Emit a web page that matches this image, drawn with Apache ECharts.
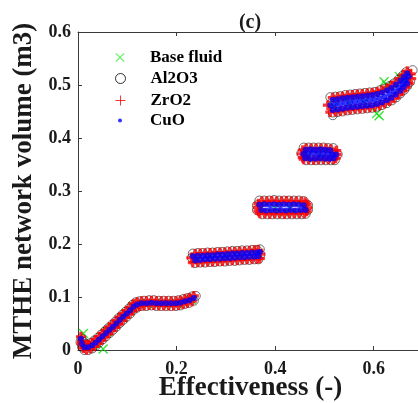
<!DOCTYPE html>
<html>
<head>
<meta charset="utf-8">
<script src="https://cdn.jsdelivr.net/npm/echarts@6/dist/echarts.min.js"></script>
<style>
  html, body { margin: 0; padding: 0; background: #fff; }
  #chart { width: 418px; height: 403px; }
</style>
</head>
<body>
<div id="chart"></div>
<script>
// Axis ranges and tick steps
const xRange = [0, 0.7];
const xStep = 0.2;
const yRange = [0, 0.6];
const yStep = 0.1;

const seriesNames = ['Base fluid', 'Al2O3', 'ZrO2', 'CuO'];

// Base fluid: [effectiveness, network volume]
const baseFluid = [
  [0.011,0.031],[0.051,0.002],[0.030,0.010],[0.060,0.035],[0.090,0.061],[0.111,0.081],
  [0.140,0.088],[0.170,0.088],[0.200,0.088],[0.230,0.095],
  [0.240,0.172],[0.270,0.174],[0.300,0.176],[0.330,0.178],[0.360,0.179],
  [0.370,0.266],[0.400,0.268],[0.430,0.268],[0.460,0.267],
  [0.465,0.368],[0.490,0.369],[0.515,0.368],
  [0.520,0.460],[0.550,0.465],[0.580,0.468],[0.606,0.446],[0.611,0.442],
  [0.621,0.506],[0.626,0.500],[0.652,0.516],[0.656,0.511]
];

// Al2O3 nanofluid
const al2o3 = [
  [0.007,0.022],[0.011,0.015],[0.017,0.011],[0.025,0.013],[0.033,0.018],[0.040,0.023],[0.047,0.029],[0.054,0.035],
  [0.061,0.041],[0.068,0.047],[0.075,0.053],[0.082,0.060],[0.089,0.066],[0.096,0.072],[0.103,0.078],[0.110,0.085],
  [0.117,0.090],[0.125,0.092],[0.134,0.093],[0.144,0.094],[0.154,0.094],[0.164,0.093],[0.174,0.093],[0.184,0.093],
  [0.194,0.093],[0.204,0.094],[0.213,0.096],[0.222,0.098],[0.231,0.101],[0.239,0.102],
  [0.005,0.015],[0.008,0.006],[0.013,0.000],[0.021,0.000],[0.029,0.003],[0.036,0.008],[0.043,0.014],[0.050,0.020],
  [0.057,0.026],[0.064,0.032],[0.071,0.038],[0.078,0.044],[0.085,0.051],[0.092,0.057],[0.099,0.063],[0.106,0.069],
  [0.113,0.076],[0.120,0.080],[0.129,0.083],[0.139,0.083],[0.149,0.084],[0.159,0.083],[0.169,0.083],[0.179,0.083],
  [0.189,0.083],[0.199,0.083],[0.208,0.084],[0.217,0.087],[0.226,0.089],[0.235,0.093],
  [0.233,0.182],[0.243,0.183],[0.253,0.183],[0.263,0.184],[0.273,0.184],[0.283,0.185],[0.293,0.185],[0.303,0.186],
  [0.313,0.187],[0.323,0.187],[0.333,0.188],[0.343,0.188],[0.353,0.189],[0.363,0.189],[0.369,0.190],
  [0.238,0.164],[0.248,0.165],[0.258,0.165],[0.268,0.166],[0.278,0.166],[0.288,0.167],[0.298,0.167],[0.308,0.168],
  [0.318,0.168],[0.328,0.169],[0.338,0.170],[0.348,0.170],[0.358,0.171],[0.366,0.171],[0.231,0.174],[0.370,0.180],
  [0.368,0.282],[0.378,0.282],[0.388,0.282],[0.398,0.283],[0.408,0.282],[0.418,0.282],[0.428,0.282],[0.438,0.282],
  [0.448,0.282],[0.458,0.281],
  [0.374,0.256],[0.384,0.256],[0.394,0.256],[0.404,0.256],[0.414,0.256],[0.424,0.256],[0.434,0.256],[0.444,0.256],
  [0.454,0.256],[0.462,0.257],[0.363,0.273],[0.363,0.264],[0.467,0.273],[0.467,0.265],
  [0.458,0.382],[0.468,0.382],[0.478,0.382],[0.488,0.382],[0.498,0.382],[0.508,0.381],[0.518,0.381],
  [0.463,0.358],[0.473,0.358],[0.483,0.358],[0.493,0.358],[0.503,0.358],[0.513,0.358],[0.521,0.358],
  [0.453,0.371],[0.527,0.369],
  [0.512,0.477],[0.522,0.478],[0.532,0.479],[0.542,0.481],[0.552,0.482],[0.562,0.483],[0.572,0.484],[0.582,0.485],
  [0.592,0.486],[0.602,0.487],[0.612,0.490],[0.622,0.493],[0.632,0.498],[0.641,0.503],[0.650,0.510],[0.658,0.517],
  [0.665,0.524],
  [0.517,0.448],[0.527,0.449],[0.537,0.450],[0.547,0.452],[0.557,0.453],[0.567,0.454],[0.577,0.455],[0.587,0.456],
  [0.597,0.457],[0.607,0.459],[0.617,0.462],[0.627,0.466],[0.637,0.471],[0.646,0.477],[0.654,0.484],[0.662,0.491],
  [0.668,0.498],
  [0.514,0.465],[0.517,0.443],[0.679,0.528],[0.669,0.516],[0.674,0.506]
];

// ZrO2 nanofluid
const zro2 = [
  [0.006,0.025],[0.008,0.016],[0.013,0.010],[0.021,0.010],[0.029,0.014],[0.036,0.019],[0.043,0.025],[0.050,0.031],
  [0.057,0.037],[0.064,0.043],[0.071,0.049],[0.078,0.055],[0.085,0.062],[0.092,0.068],[0.099,0.074],[0.106,0.080],
  [0.113,0.087],[0.120,0.090],[0.129,0.092],[0.139,0.092],[0.149,0.093],[0.159,0.092],[0.169,0.092],[0.179,0.092],
  [0.189,0.092],[0.199,0.092],[0.208,0.093],[0.217,0.096],[0.226,0.098],[0.235,0.102],
  [0.007,0.012],[0.011,0.004],[0.017,0.001],[0.025,0.003],[0.033,0.007],[0.040,0.013],[0.047,0.019],[0.054,0.025],
  [0.061,0.031],[0.068,0.037],[0.075,0.043],[0.082,0.049],[0.089,0.056],[0.096,0.062],[0.103,0.068],[0.110,0.074],
  [0.117,0.080],[0.125,0.083],[0.134,0.084],[0.144,0.085],[0.154,0.085],[0.164,0.084],[0.174,0.084],[0.184,0.084],
  [0.194,0.084],[0.204,0.085],[0.213,0.087],[0.222,0.089],[0.231,0.092],
  [0.238,0.181],[0.248,0.182],[0.258,0.182],[0.268,0.183],[0.278,0.183],[0.288,0.184],[0.298,0.184],[0.308,0.185],
  [0.318,0.185],[0.328,0.186],[0.338,0.186],[0.348,0.187],[0.358,0.188],[0.366,0.188],
  [0.233,0.165],[0.243,0.166],[0.253,0.166],[0.263,0.167],[0.273,0.167],[0.283,0.168],[0.293,0.168],[0.303,0.169],
  [0.313,0.170],[0.323,0.170],[0.333,0.171],[0.343,0.171],[0.353,0.172],[0.363,0.172],[0.369,0.173],
  [0.230,0.174],[0.370,0.181],
  [0.373,0.280],[0.383,0.280],[0.393,0.281],[0.403,0.280],[0.413,0.280],[0.423,0.281],[0.433,0.280],[0.443,0.280],
  [0.453,0.280],[0.461,0.279],
  [0.369,0.258],[0.379,0.258],[0.389,0.257],[0.399,0.258],[0.409,0.258],[0.419,0.257],[0.429,0.258],[0.439,0.258],
  [0.449,0.258],[0.459,0.258],
  [0.365,0.269],[0.465,0.268],[0.366,0.276],[0.366,0.262],[0.464,0.275],[0.464,0.262],
  [0.463,0.380],[0.473,0.380],[0.483,0.380],[0.493,0.380],[0.503,0.380],[0.513,0.379],
  [0.458,0.360],[0.468,0.360],[0.478,0.359],[0.488,0.360],[0.498,0.360],[0.508,0.360],[0.518,0.360],
  [0.454,0.370],[0.456,0.377],[0.456,0.363],[0.524,0.376],[0.525,0.369],[0.523,0.362],
  [0.517,0.476],[0.527,0.477],[0.537,0.478],[0.547,0.480],[0.557,0.481],[0.567,0.482],[0.577,0.483],[0.587,0.484],
  [0.597,0.485],[0.607,0.487],[0.617,0.490],[0.627,0.494],[0.636,0.499],[0.645,0.505],[0.654,0.512],[0.661,0.519],
  [0.668,0.526],
  [0.512,0.449],[0.522,0.450],[0.532,0.451],[0.542,0.453],[0.552,0.454],[0.562,0.455],[0.572,0.456],[0.582,0.457],
  [0.592,0.458],[0.602,0.459],[0.612,0.462],[0.622,0.465],[0.632,0.470],[0.641,0.475],[0.650,0.482],[0.658,0.489],
  [0.665,0.496],[0.671,0.503],
  [0.507,0.462],[0.675,0.521],[0.676,0.512]
];

// CuO nanofluid
const cuo = [
  [0.006,0.021],[0.008,0.012],[0.013,0.005],[0.021,0.005],[0.029,0.009],[0.036,0.014],[0.043,0.020],[0.050,0.026],
  [0.057,0.032],[0.064,0.038],[0.071,0.044],[0.078,0.050],[0.085,0.057],[0.092,0.063],[0.099,0.069],[0.106,0.075],
  [0.113,0.082],[0.120,0.086],[0.129,0.088],[0.139,0.088],[0.149,0.089],[0.159,0.088],[0.169,0.088],[0.179,0.088],
  [0.189,0.088],[0.199,0.088],[0.208,0.089],[0.217,0.092],[0.226,0.094],[0.235,0.098],
  [0.233,0.177],[0.243,0.178],[0.253,0.178],[0.263,0.179],[0.273,0.179],[0.283,0.180],[0.293,0.180],[0.303,0.181],
  [0.313,0.182],[0.323,0.182],[0.333,0.183],[0.343,0.183],[0.353,0.184],[0.363,0.184],[0.369,0.185],
  [0.238,0.169],[0.248,0.170],[0.258,0.171],[0.268,0.171],[0.278,0.172],[0.288,0.172],[0.298,0.173],[0.308,0.173],
  [0.318,0.174],[0.328,0.175],[0.338,0.175],[0.348,0.176],[0.358,0.176],[0.366,0.177],
  [0.368,0.274],[0.378,0.275],[0.388,0.274],[0.398,0.275],[0.408,0.274],[0.418,0.275],[0.428,0.274],[0.438,0.275],
  [0.448,0.274],[0.458,0.273],
  [0.372,0.264],[0.382,0.263],[0.392,0.264],[0.402,0.263],[0.412,0.264],[0.422,0.263],[0.432,0.264],[0.442,0.263],
  [0.452,0.264],[0.462,0.264],
  [0.462,0.378],[0.472,0.379],[0.482,0.378],[0.492,0.379],[0.502,0.378],[0.512,0.377],
  [0.457,0.370],[0.467,0.370],[0.477,0.371],[0.487,0.370],[0.497,0.370],[0.507,0.369],[0.517,0.369],[0.524,0.369],
  [0.461,0.362],[0.471,0.361],[0.481,0.361],[0.491,0.362],[0.501,0.361],[0.511,0.361],[0.519,0.362],
  [0.512,0.462],[0.522,0.463],[0.532,0.464],[0.542,0.466],[0.552,0.467],[0.562,0.468],[0.572,0.469],[0.582,0.470],
  [0.592,0.471],[0.602,0.472],[0.612,0.475],[0.622,0.478],[0.632,0.483],[0.641,0.488],[0.650,0.495],[0.658,0.502],
  [0.665,0.509],[0.671,0.516],
  [0.517,0.472],[0.527,0.473],[0.537,0.475],[0.547,0.476],[0.557,0.477],[0.567,0.478],[0.577,0.479],[0.587,0.480],
  [0.597,0.481],[0.607,0.483],[0.617,0.486],[0.627,0.490],[0.636,0.495],[0.645,0.501],[0.654,0.508],[0.661,0.515],
  [0.668,0.522],
  [0.517,0.453],[0.527,0.454],[0.537,0.455],[0.547,0.457],[0.557,0.458],[0.567,0.459],[0.577,0.460],[0.587,0.461],
  [0.597,0.462],[0.607,0.464],[0.617,0.467],[0.627,0.471],[0.636,0.476],[0.645,0.482],[0.654,0.489],[0.661,0.496],
  [0.668,0.503]
];

const serif = '"Liberation Serif", "Times New Roman", serif';
const axisColor = '#3a3a3a';
const textColor = '#1a1a1a';

const crossSymbol = 'path://M0,0L10,10M10,0L0,10';
const plusSymbol = 'path://M5,0L5,10M0,5L10,5';
// Solid outline of a thin "x", so the legend key is painted by its fill
const crossIcon = 'path://M0,0.7L0.7,0L5,4.3L9.3,0L10,0.7L5.7,5L10,9.3L9.3,10L5,5.7L0.7,10L0,9.3L4.3,5Z';

// One legend block per entry so each marker keeps its own icon size
function legendEntry(name, centerY, size, icon, itemStyle) {
  const entry = { name: name, itemStyle: itemStyle };
  if (icon) entry.icon = icon;
  return {
    data: [entry],
    orient: 'vertical',
    left: 120 - size / 2,
    top: centerY - 7,
    padding: 0,
    itemWidth: size,
    itemHeight: size,
    selectedMode: false,
    itemStyle: itemStyle,
    inactiveColor: itemStyle.color,
    inactiveBorderColor: itemStyle.borderColor || itemStyle.color,
    textStyle: {
      fontFamily: serif, fontWeight: 'bold', fontSize: 17, color: '#000',
      padding: [0, 0, 0, 25 - size / 2]
    }
  };
}

const chart = echarts.init(document.getElementById('chart'), null, { renderer: 'canvas' });

chart.setOption({
  animation: false,
  backgroundColor: '#fff',
  title: {
    text: '(c)',
    left: 250,
    top: 13,
    padding: 0,
    textAlign: 'center',
    textStyle: { fontFamily: serif, fontWeight: 'bold', fontSize: 20, color: textColor }
  },
  grid: { left: 78, top: 32, right: -5, bottom: 53, containLabel: false, outerBoundsMode: 'none' },
  legend: [
    legendEntry(seriesNames[0], 56, 9, crossIcon, { color: '#22ee22', borderColor: '#22ee22', borderWidth: 0 }),
    legendEntry(seriesNames[1], 77, 10, 'circle', { color: 'rgba(0,0,0,0)', borderColor: '#000', borderWidth: 1 }),
    legendEntry(seriesNames[2], 99, 10, plusSymbol, { color: '#ff0000', borderColor: '#ff0000', borderWidth: 1 }),
    legendEntry(seriesNames[3], 119, 4, 'circle', { color: '#0000ff', borderColor: '#0000ff', borderWidth: 0 })
  ],
  xAxis: [{
    type: 'value', min: xRange[0], max: xRange[1], interval: xStep,
    name: 'Effectiveness (-)', nameLocation: 'middle', nameGap: 25, nameMoveOverlap: false,
    nameTextStyle: { fontFamily: serif, fontWeight: 'bold', fontSize: 27, color: textColor },
    axisLine: { show: true, onZero: false, lineStyle: { color: axisColor, width: 1 } },
    axisTick: { show: true, inside: true, length: 4, lineStyle: { color: axisColor } },
    axisLabel: {
      margin: 10, showMaxLabel: false,
      fontFamily: serif, fontWeight: 'bold', fontSize: 18, color: textColor
    },
    splitLine: { show: false }
  }, {
    type: 'value', position: 'top', min: xRange[0], max: xRange[1], interval: xStep,
    axisLine: { show: true, onZero: false, lineStyle: { color: axisColor, width: 1 } },
    axisTick: { show: true, inside: true, length: 4, lineStyle: { color: axisColor } },
    axisLabel: { show: false },
    splitLine: { show: false }
  }],
  yAxis: [{
    type: 'value', min: yRange[0], max: yRange[1], interval: yStep,
    name: 'MTHE network volume (m3)', nameLocation: 'middle', nameGap: 40, nameMoveOverlap: false,
    nameTextStyle: { fontFamily: serif, fontWeight: 'bold', fontSize: 27, color: textColor },
    axisLine: { show: true, onZero: false, lineStyle: { color: axisColor, width: 1 } },
    axisTick: { show: true, inside: true, length: 4, lineStyle: { color: axisColor } },
    axisLabel: { margin: 7, fontFamily: serif, fontWeight: 'bold', fontSize: 18, color: textColor },
    splitLine: { show: false }
  }],
  series: [
    {
      name: seriesNames[0], type: 'scatter', data: baseFluid,
      symbol: crossSymbol, symbolSize: 9,
      itemStyle: { color: '#00ff00', borderColor: '#00dd00', borderWidth: 1.3 },
      emphasis: { disabled: true }
    },
    {
      name: seriesNames[1], type: 'scatter', data: al2o3,
      symbol: 'circle', symbolSize: 9,
      itemStyle: { color: 'rgba(0,0,0,0)', borderColor: '#000', borderWidth: 0.7 },
      emphasis: { disabled: true }
    },
    {
      name: seriesNames[2], type: 'scatter', data: zro2,
      symbol: plusSymbol, symbolSize: 10,
      itemStyle: { color: '#ff0000', borderColor: '#ff0000', borderWidth: 3.2 },
      emphasis: { disabled: true }
    },
    {
      name: seriesNames[3], type: 'scatter', data: cuo,
      symbol: 'circle', symbolSize: 6,
      itemStyle: { color: '#0000ff', borderWidth: 0 },
      emphasis: { disabled: true }
    }
  ]
});
</script>
</body>
</html>
